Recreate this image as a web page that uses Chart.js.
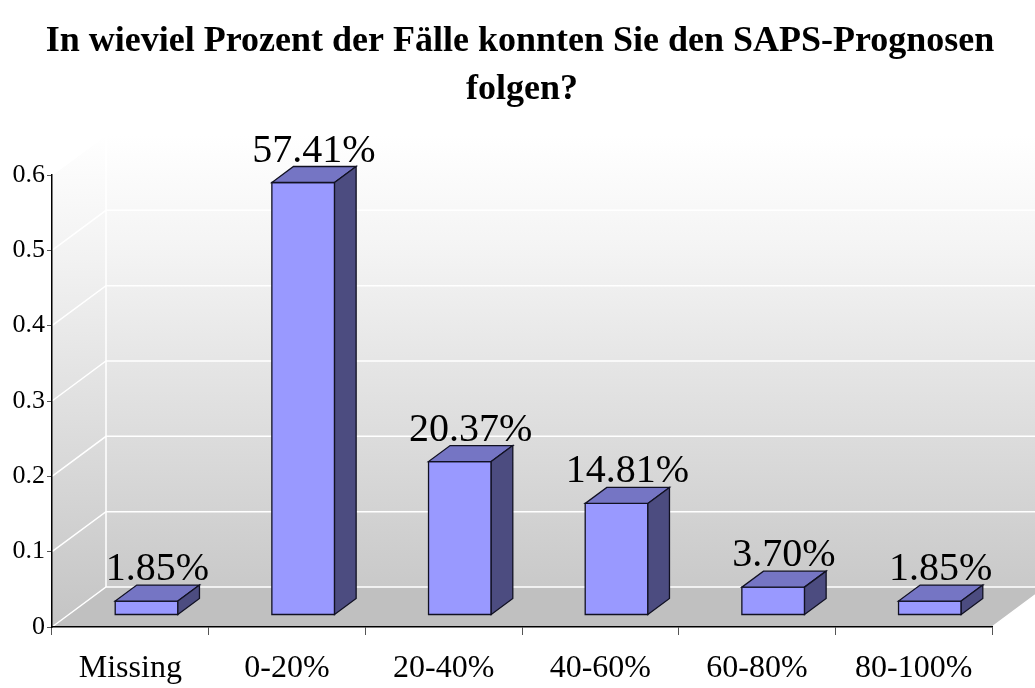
<!DOCTYPE html>
<html>
<head>
<meta charset="utf-8">
<script src="https://cdn.jsdelivr.net/npm/chart.js@4"></script>
<style>
  html, body { margin: 0; padding: 0; background: #fff; }
  #wrap { width: 1035px; height: 688px; }
</style>
</head>
<body>
<div id="wrap"><canvas id="barChart" width="1035" height="688"></canvas></div>
<script>
const CHART = document.getElementById("barChart");

// data
const categories = ['Missing', '0-20%', '20-40%', '40-60%', '60-80%', '80-100%'];
const shares = [0.0185, 0.5741, 0.2037, 0.1481, 0.0370, 0.0185];
const shareLabels = ['1.85%', '57.41%', '20.37%', '14.81%', '3.70%', '1.85%'];
const yMax = 0.6;
const yStep = 0.1;
const titleLines = ['In wieviel Prozent der Fälle konnten Sie den SAPS-Prognosen', 'folgen?'];

const SERIF = "'Liberation Serif', 'DejaVu Serif', serif";
const DEPTH = { x: 54, y: -40 };   // offset from front axis to back wall

// draws the title, walls, floor and the 3d boxes
const box3d = {
    id: 'box3d',
    beforeDraw(chart) {
        const { ctx, chartArea: a, scales } = chart;
        const dx = DEPTH.x, dy = DEPTH.y;
        const top = a.top, base = a.bottom;
        ctx.save();
        ctx.fillStyle = '#fff';
        ctx.fillRect(0, 0, chart.width, chart.height);

        // title
        ctx.fillStyle = '#000';
        ctx.font = 'bold 36px ' + SERIF;
        ctx.textAlign = 'center';
        ctx.textBaseline = 'alphabetic';
        ctx.fillText(titleLines[0], 520, 51);
        ctx.fillText(titleLines[1], 522, 99);

        // back wall
        let g = ctx.createLinearGradient(0, top + dy, 0, base + dy);
        g.addColorStop(0, '#ffffff');
        g.addColorStop(0.25, '#f4f4f4');
        g.addColorStop(1, '#c9c9c9');
        ctx.fillStyle = g;
        ctx.fillRect(a.left + dx, top + dy, a.right - a.left + dx, base - top);

        // left wall
        g = ctx.createLinearGradient(0, top + dy, 0, base);
        g.addColorStop(0, '#ffffff');
        g.addColorStop(0.25, '#f2f2f2');
        g.addColorStop(1, '#c4c4c4');
        ctx.fillStyle = g;
        ctx.beginPath();
        ctx.moveTo(a.left, top);
        ctx.lineTo(a.left + dx, top + dy);
        ctx.lineTo(a.left + dx, base + dy);
        ctx.lineTo(a.left, base);
        ctx.closePath();
        ctx.fill();

        // floor
        ctx.fillStyle = '#c0c0c0';
        ctx.beginPath();
        ctx.moveTo(a.left, base);
        ctx.lineTo(a.right, base);
        ctx.lineTo(a.right + dx, base + dy);
        ctx.lineTo(a.left + dx, base + dy);
        ctx.closePath();
        ctx.fill();

        // white grid lines
        ctx.strokeStyle = '#ffffff';
        ctx.lineWidth = 1.5;
        scales.y.ticks.forEach(t => {
            const py = scales.y.getPixelForValue(t.value);
            ctx.beginPath();
            ctx.moveTo(a.left, py);
            ctx.lineTo(a.left + dx, py + dy);
            ctx.lineTo(a.right + dx + 60, py + dy);
            ctx.stroke();
        });
        ctx.beginPath();
        ctx.moveTo(a.left + dx, top + dy);
        ctx.lineTo(a.left + dx, base + dy);
        ctx.moveTo(a.right, base);
        ctx.lineTo(a.right + dx, base + dy);
        ctx.stroke();
        ctx.restore();
    },
    afterDatasetsDraw(chart) {
        const { ctx } = chart;
        const meta = chart.getDatasetMeta(0);
        const fx = DEPTH.x * 0.3, fy = DEPTH.y * 0.3;   // front face of box
        const bx = DEPTH.x * 0.4, by = DEPTH.y * 0.4;   // box depth
        ctx.save();
        ctx.lineWidth = 1.3;
        ctx.strokeStyle = '#111122';
        ctx.lineJoin = 'miter';
        meta.data.forEach((bar, i) => {
            const p = bar.getProps(['x', 'y', 'base', 'width'], true);
            const l = p.x - p.width / 2 + fx, r = p.x + p.width / 2 + fx;
            const t = p.y + fy, b = p.base + fy;

            ctx.fillStyle = '#9999ff';
            ctx.beginPath();
            ctx.rect(l, t, r - l, b - t);
            ctx.fill(); ctx.stroke();

            ctx.fillStyle = '#7575c4';
            ctx.beginPath();
            ctx.moveTo(l, t); ctx.lineTo(r, t); ctx.lineTo(r + bx, t + by); ctx.lineTo(l + bx, t + by);
            ctx.closePath();
            ctx.fill(); ctx.stroke();

            ctx.fillStyle = '#4c4c80';
            ctx.beginPath();
            ctx.moveTo(r, t); ctx.lineTo(r + bx, t + by); ctx.lineTo(r + bx, b + by); ctx.lineTo(r, b);
            ctx.closePath();
            ctx.fill(); ctx.stroke();

            ctx.fillStyle = '#000';
            ctx.font = '40px ' + SERIF;
            ctx.textAlign = 'center';
            ctx.textBaseline = 'alphabetic';
            ctx.fillText(shareLabels[i], (l + r) / 2 + bx / 2, t + by - 5);
        });
        ctx.restore();
    }
};

const data = {
    labels: categories,
    datasets: [{
        label: 'Anteil',
        data: shares,
        backgroundColor: 'rgba(0,0,0,0)',
        borderWidth: 0,
        categoryPercentage: 1.0,
        barPercentage: 0.4,
    }]
};

let barChart = new Chart(CHART, {
    type: 'bar',
    data: data,
    plugins: [box3d],
    options: {
        responsive: false,
        animation: false,
        layout: { padding: { left: 0, right: 43, top: 175, bottom: 0 } },
        plugins: {
            legend: { display: false },
            tooltip: { enabled: false },
            title: { display: false },
        },
        scales: {
            x: {
                grid: { drawOnChartArea: false, offset: true, tickLength: 8, color: '#555' },
                border: { color: '#000', width: 1.5 },
                ticks: { color: '#000', font: { family: SERIF, size: 32 }, padding: 14, maxRotation: 0 },
                afterFit: s => { s.height = 61; },
            },
            y: {
                min: 0,
                max: yMax,
                grid: { drawOnChartArea: false, tickLength: 5, color: '#555' },
                border: { color: '#000', width: 1.5 },
                ticks: {
                    stepSize: yStep,
                    color: '#000',
                    padding: 2,
                    font: { family: SERIF, size: 26 },
                    callback: v => String(+v.toFixed(1)),
                },
                afterFit: s => { s.width = 52; },
            },
        },
    },
});
</script>
</body>
</html>
